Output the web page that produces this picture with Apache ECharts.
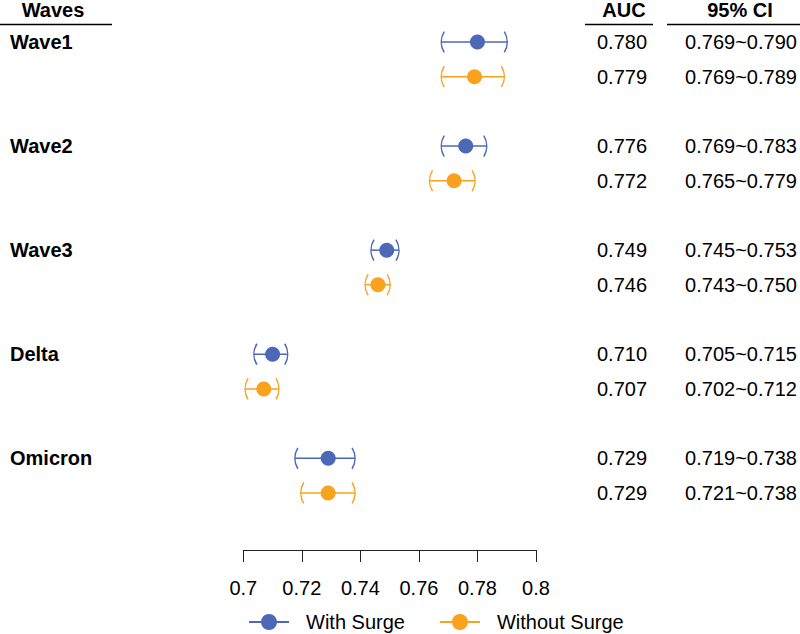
<!DOCTYPE html>
<html>
<head>
<meta charset="utf-8">
<script src="https://cdn.jsdelivr.net/npm/echarts@6/dist/echarts.min.js"></script>
<style>
html,body{margin:0;padding:0;background:#fff;}
#main{width:800px;height:634px;}
</style>
</head>
<body>
<div id="main"></div>
<script>
// ---- data ----
var categories = ['Wave1', 'Wave2', 'Wave3', 'Delta', 'Omicron'];
var seriesNames = ['With Surge', 'Without Surge'];
var withAUC = [0.780, 0.776, 0.749, 0.710, 0.729];
var withLo  = [0.769, 0.769, 0.745, 0.705, 0.719];
var withHi  = [0.790, 0.783, 0.753, 0.715, 0.738];
var withoutAUC = [0.779, 0.772, 0.746, 0.707, 0.729];
var withoutLo  = [0.769, 0.765, 0.743, 0.702, 0.721];
var withoutHi  = [0.789, 0.779, 0.750, 0.712, 0.738];
var headers = ['Waves', 'AUC', '95% CI'];
var xTicks = [0.7, 0.72, 0.74, 0.76, 0.78, 0.8];

// ---- styles ----
var BLUE = '#4C68B6';
var ORANGE = '#F8A21E';
var FONT = '"Liberation Sans", Arial, Helvetica, sans-serif';
var FS = 20;

// row index: group g, series s -> 3g + s
function rowsFor(aucs, los, his, s) {
  return aucs.map(function (v, g) { return [v, los[g], his[g], 3 * g + s]; });
}
var withData = rowsFor(withAUC, withLo, withHi, 0);
var withoutData = rowsFor(withoutAUC, withoutLo, withoutHi, 1);

// table rows: [x anchor, row index]; texts looked up by index
var tableData = [];
var tableText = [];
categories.forEach(function (c, g) {
  tableData.push([0.7, 3 * g]);
  tableText.push([c, withAUC[g].toFixed(3), withLo[g].toFixed(3) + '~' + withHi[g].toFixed(3)]);
  tableData.push([0.7, 3 * g + 1]);
  tableText.push(['', withoutAUC[g].toFixed(3), withoutLo[g].toFixed(3) + '~' + withoutHi[g].toFixed(3)]);
});

function ciRenderer(color) {
  return function (params, api) {
    var k = api.value(3);
    var c = api.coord([api.value(0), k]);
    var lo = api.coord([api.value(1), k]);
    var hi = api.coord([api.value(2), k]);
    var y = c[1];
    var r = 20, ha = 0.55;
    var xl = lo[0] - 4, xh = hi[0] + 0.5;
    var st = { stroke: color, lineWidth: 1.5, fill: null };
    return {
      type: 'group',
      children: [
        { type: 'line', shape: { x1: xl, y1: y, x2: xh, y2: y }, style: st },
        { type: 'arc', shape: { cx: xl + r, cy: y, r: r, startAngle: Math.PI - ha, endAngle: Math.PI + ha, clockwise: true }, style: st },
        { type: 'arc', shape: { cx: xh - r, cy: y, r: r, startAngle: -ha, endAngle: ha, clockwise: true }, style: st },
        { type: 'circle', shape: { cx: c[0], cy: y, r: 7.5 }, style: { fill: color } }
      ]
    };
  };
}

function tableRenderer(params, api) {
  var k = api.value(1);
  var y = api.coord([0.7, k])[1];
  var t = tableText[params.dataIndex];
  var ts = function (text, x, align, bold) {
    return { type: 'text', x: x, y: y, style: { text: text, align: align, verticalAlign: 'middle', font: (bold ? 'bold ' : '') + FS + 'px ' + FONT, fill: '#000' } };
  };
  var children = [ts(t[1], 622, 'center', false), ts(t[2], 741, 'center', false)];
  if (t[0]) children.push(ts(t[0], 10, 'left', true));
  return { type: 'group', children: children };
}

var chart = echarts.init(document.getElementById('main'), null, { renderer: 'svg' });
var option = {
  backgroundColor: '#fff',
  animation: false,
  grid: { left: 243.3, width: 292.7, top: 7.31, height: 542.69, containLabel: false },
  xAxis: {
    type: 'value', min: xTicks[0], max: xTicks[xTicks.length - 1], interval: 0.02,
    position: 'bottom',
    axisLine: { show: true, onZero: false, lineStyle: { color: '#222', width: 1 } },
    axisTick: { show: true, inside: false, length: 12, lineStyle: { color: '#222', width: 1 } },
    axisLabel: { color: '#000', fontSize: FS, fontFamily: FONT, margin: 28,
      formatter: function (v) { return String(+v.toFixed(2)); } },
    splitLine: { show: false }
  },
  yAxis: { type: 'value', inverse: true, min: -1, max: 14.644, show: false },
  legend: {
    data: seriesNames,
    left: 248, top: 612, padding: 0,
    itemWidth: 40, itemHeight: 20, itemGap: 34,
    textStyle: { color: '#000', fontSize: FS, fontFamily: FONT, padding: [0, 0, 0, 12] },
    lineStyle: { width: 2 }
  },
  graphic: [
    { type: 'text', x: 53, y: 10, style: { text: headers[0], align: 'center', verticalAlign: 'middle', font: 'bold ' + FS + 'px ' + FONT, fill: '#000' } },
    { type: 'text', x: 624, y: 10, style: { text: headers[1], align: 'center', verticalAlign: 'middle', font: 'bold ' + FS + 'px ' + FONT, fill: '#000' } },
    { type: 'text', x: 740, y: 10, style: { text: headers[2], align: 'center', verticalAlign: 'middle', font: 'bold ' + FS + 'px ' + FONT, fill: '#000' } },
    { type: 'line', shape: { x1: 0, y1: 24.5, x2: 112, y2: 24.5 }, style: { stroke: '#000', lineWidth: 1.3 } },
    { type: 'line', shape: { x1: 585, y1: 24.5, x2: 653, y2: 24.5 }, style: { stroke: '#000', lineWidth: 1.3 } },
    { type: 'line', shape: { x1: 667, y1: 24.5, x2: 800, y2: 24.5 }, style: { stroke: '#000', lineWidth: 1.3 } }
  ],
  series: [
    { type: 'custom', name: 'ci-with', renderItem: ciRenderer(BLUE), data: withData, clip: false, encode: { x: [0, 1, 2], y: 3 } },
    { type: 'custom', name: 'ci-without', renderItem: ciRenderer(ORANGE), data: withoutData, clip: false, encode: { x: [0, 1, 2], y: 3 } },
    { type: 'custom', name: 'table', renderItem: tableRenderer, data: tableData, clip: false, encode: { x: 0, y: 1 } },
    { type: 'line', name: seriesNames[0], data: [], symbol: 'circle', color: BLUE, lineStyle: { color: BLUE, width: 2 }, itemStyle: { color: BLUE } },
    { type: 'line', name: seriesNames[1], data: [], symbol: 'circle', color: ORANGE, lineStyle: { color: ORANGE, width: 2 }, itemStyle: { color: ORANGE } }
  ]
};
chart.setOption(option);
</script>
</body>
</html>
